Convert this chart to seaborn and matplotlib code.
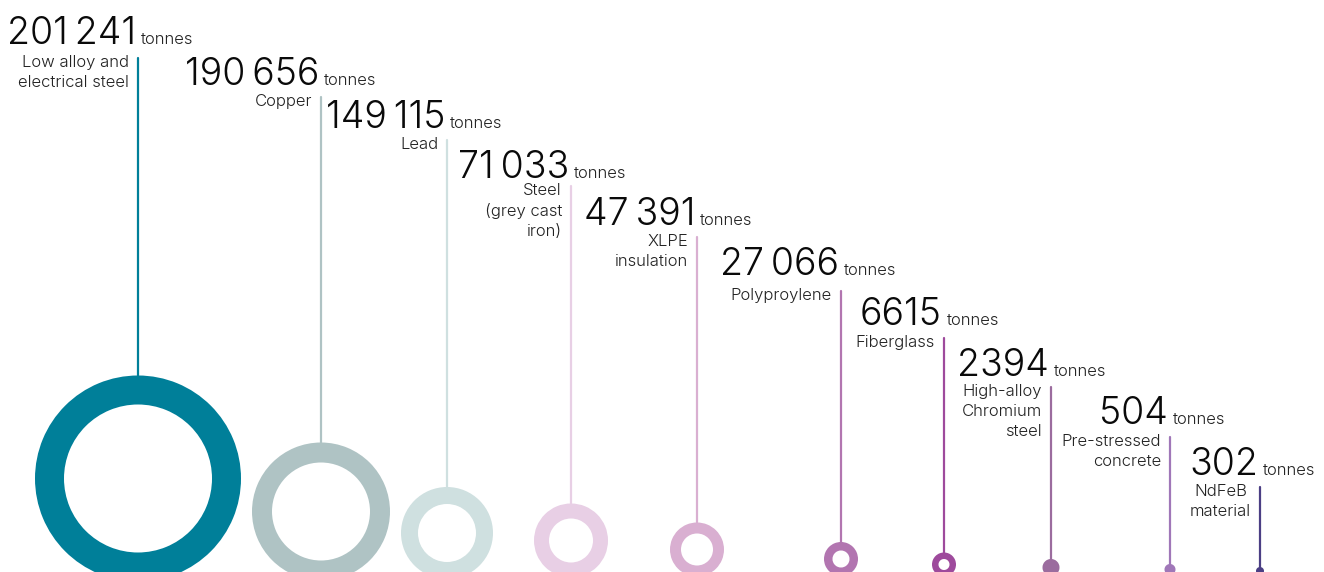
import pandas as pd
import matplotlib.pyplot as plt
import seaborn as sns
from matplotlib.patches import Wedge

# data
materials = ["Low alloy and\nelectrical steel", "Copper", "Lead", "Steel\n(grey cast\niron)",
             "XLPE\ninsulation", "Polyproylene", "Fiberglass", "High-alloy\nChromium\nsteel",
             "Pre-stressed\nconcrete", "NdFeB\nmaterial"]
tonnes = [201241, 190656, 149115, 71033, 47391, 27066, 6615, 2394, 504, 302]
number_labels = ["201\u2009241", "190\u2009656", "149\u2009115", "71\u2009033", "47\u2009391",
                 "27\u2009066", "6615", "2394", "504", "302"]

# layout (pixels, y grows downward)
stem_x = [138, 321, 447, 571, 697, 841, 944, 1051, 1170, 1260]
stem_top = [58, 97, 140, 186, 237, 291, 338, 387, 437, 487]
num_base = [44, 85, 128, 178, 225, 275, 325, 376, 424, 475]
ring_r = [103, 69, 46, 37, 27, 17, 12, 8.5, 5.5, 4]
ring_w = [29, 20, 17, 15, 11, 8.5, 6.5, 8.5, 5.5, 4]
ring_cy = [478.5, 511.5, 533, 540.5, 549.5, 559, 564.5, 567.5, 569.5, 571]
colors = ["#007F99", "#AFC3C4", "#CFE0E0", "#E8CFE5", "#D9AFD1", "#B275B0",
          "#9E4A9C", "#9B6C9E", "#A077B8", "#4B3F84"]

sns.set_theme(style="white")
plt.rcParams['font.family'] = ['Inter', 'DejaVu Sans']

df = pd.DataFrame({"material": materials, "tonnes": tonnes, "x": stem_x,
                   "top": stem_top, "cy": ring_cy, "r": ring_r})

# long form for the stems
stems = pd.concat([
    pd.DataFrame({"material": df["material"], "x": df["x"], "y": df["top"]}),
    pd.DataFrame({"material": df["material"], "x": df["x"], "y": df["cy"] - df["r"]}),
])

fig = plt.figure(figsize=(13.24, 5.72), dpi=100)
ax = fig.add_axes([0, 0, 1, 1])

sns.lineplot(data=stems, x="x", y="y", hue="material", units="material", estimator=None,
             palette=colors, hue_order=materials, sort=False, linewidth=1.6,
             legend=False, ax=ax)

for i, row in df.iterrows():
    ax.add_patch(Wedge((row["x"], row["cy"]), row["r"], 0, 360, width=ring_w[i],
                       facecolor=colors[i], edgecolor="none"))
    ax.text(row["x"] - 2, num_base[i], number_labels[i], ha="right", va="baseline",
            fontsize=27, fontweight=300, color="#0a0a0a")
    ax.text(row["x"] + 3, num_base[i], "tonnes", ha="left", va="baseline",
            fontsize=12, fontweight=300, color="#222222")
    align = "center" if i == 9 else "right"
    ax.text(row["x"] - 9, row["top"] - 3, row["material"], ha="right", va="top",
            multialignment=align, fontsize=12, fontweight=300, linespacing=1.4,
            color="#222222")

ax.set_xlim(0, 1324)
ax.set_ylim(572, 0)
ax.set_aspect("equal")
ax.axis("off")

plt.savefig("out.png", dpi=100)
